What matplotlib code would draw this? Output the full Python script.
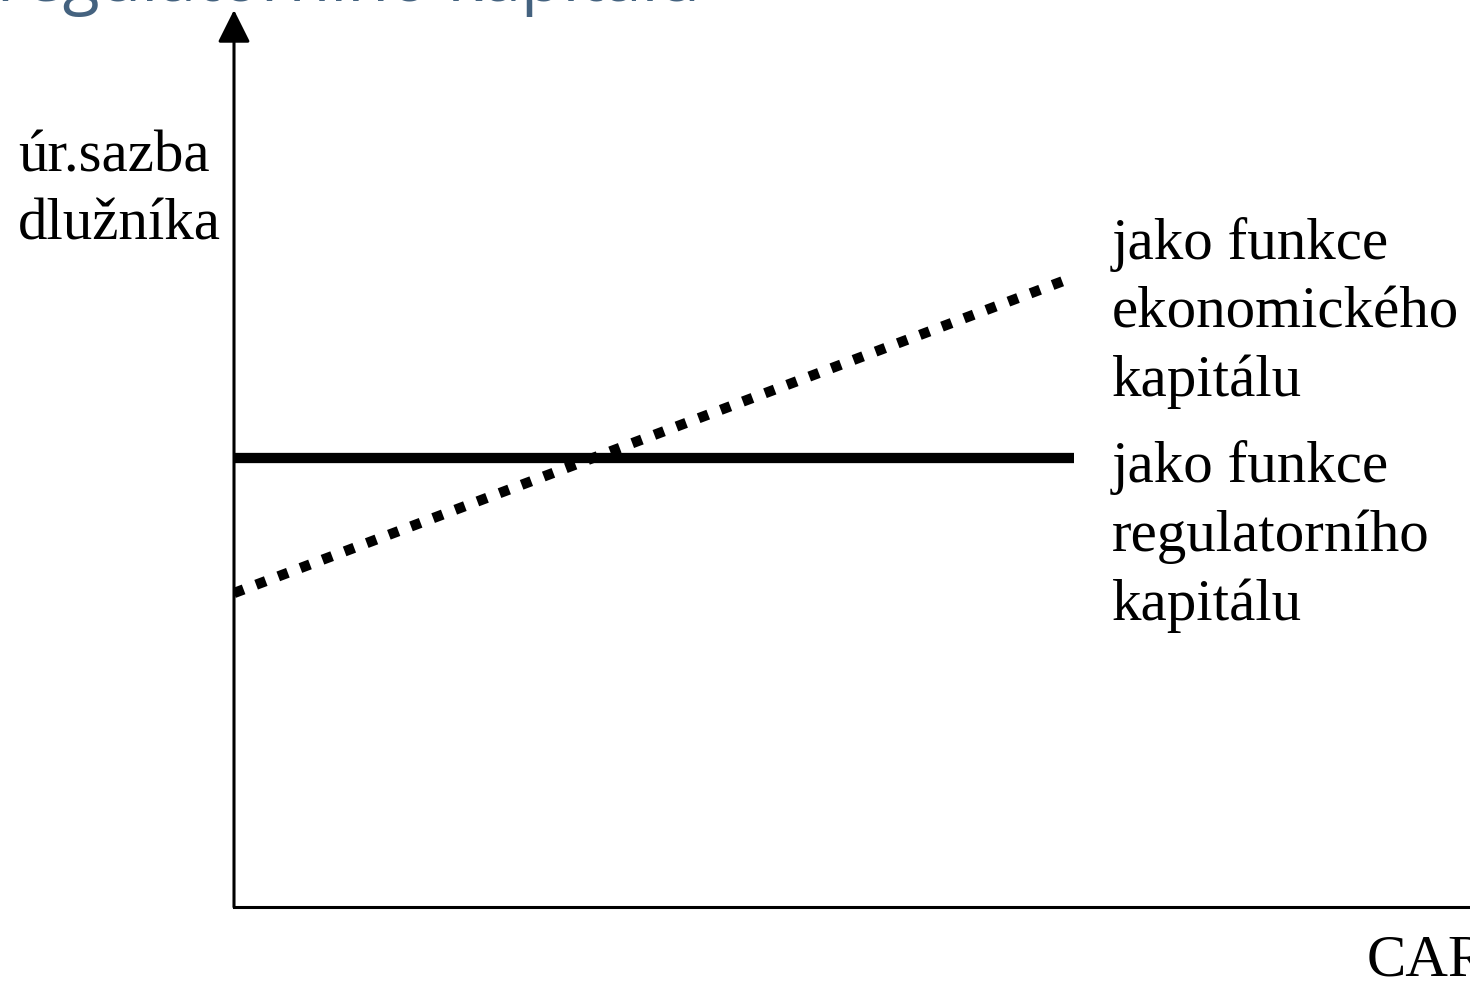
import matplotlib
matplotlib.use("Agg")
import matplotlib.pyplot as plt

# data (relative units: x = CAR, y = úroková sazba)
x_reg = [0, 68]
y_reg = [50, 50]          # jako funkce regulatorního kapitálu
x_eko = [0, 67.5]
y_eko = [35, 70]          # jako funkce ekonomického kapitálu

label_y = "úr.sazba\ndlužníka"
label_x = "CAR"
label_eko = "jako funkce\nekonomického\nkapitálu"
label_reg = "jako funkce\nregulatorního\nkapitálu"
title = "regulatorního kapitálu"

W, H = 1470, 981
fig = plt.figure(figsize=(W / 100, H / 100), dpi=100)
fig.patch.set_facecolor("white")

# axes: origin at pixel (234, 907)
ax = fig.add_axes([234 / W, (H - 907) / H, (W - 234) / W, 897 / H])
ax.set_xlim(0, 100)
ax.set_ylim(0, 100)
ax.set_xticks([])
ax.set_yticks([])
for s in ["top", "right", "left"]:
    ax.spines[s].set_visible(False)
ax.spines["bottom"].set_linewidth(2.2)
ax.patch.set_alpha(0)

# osa y se šipkou
ax.annotate("", xy=(0, 1.0), xytext=(0, 0), xycoords="axes fraction",
            arrowprops=dict(arrowstyle="-|>,head_length=0.5,head_width=0.25",
                            lw=2.2, color="black",
                            mutation_scale=40, shrinkA=0, shrinkB=0),
            annotation_clip=False)

ax.plot(x_reg, y_reg, color="black", lw=7.4, solid_capstyle="butt")
ax.plot(x_eko, y_eko, color="black", lw=7.4, linestyle=(0, (1, 1.3)),
        dash_capstyle="butt")

serif = ["Liberation Serif", "DejaVu Serif"]
fs = 42.5
ls = 1.35
fig.text(18 / W, 1 - 130 / H, label_y, family=serif, fontsize=fs,
         va="top", ha="left", linespacing=ls)
fig.text(1112 / W, 1 - 217 / H, label_eko, family=serif, fontsize=fs,
         va="top", ha="left", linespacing=ls)
fig.text(1112 / W, 1 - 440 / H, label_reg, family=serif, fontsize=fs,
         va="top", ha="left", linespacing=ls)
fig.text(1367 / W, 1 - 976 / H, label_x, family=serif, fontsize=fs,
         va="baseline", ha="left")

fig.text(-3 / W, 1 - 1 / H, title, family=["Open Sans", "DejaVu Sans"],
         fontsize=49, color="#44627f", va="baseline", ha="left")

fig.savefig("out.png", dpi=100)
